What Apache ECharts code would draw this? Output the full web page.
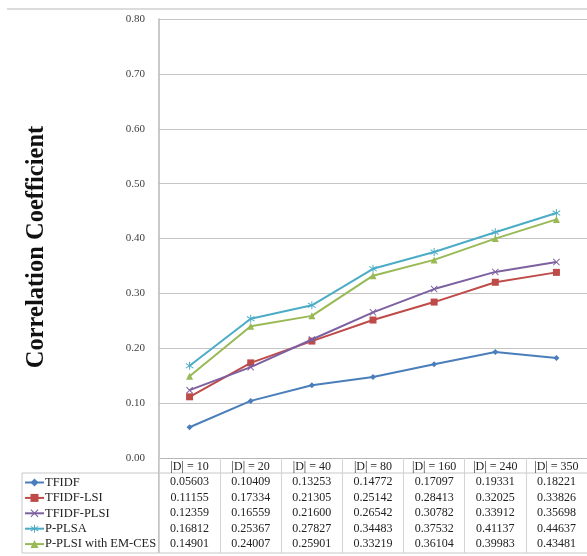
<!DOCTYPE html>
<html>
<head>
<meta charset="utf-8">
<script src="https://cdn.jsdelivr.net/npm/echarts@6/dist/echarts.min.js"></script>
<style>
  html, body { margin: 0; padding: 0; background: #fff; }
  #chart { width: 587px; height: 556px; }
</style>
</head>
<body>
<div id="chart"></div>
<script>
// Categories: document-set sizes
const categories = ['|D| = 10', '|D| = 20', '|D| = 40', '|D| = 80', '|D| = 160', '|D| = 240', '|D| = 350'];

// Correlation coefficient per method
const tfidf      = [0.05603, 0.10409, 0.13253, 0.14772, 0.17097, 0.19331, 0.18221];
const tfidfLsi   = [0.11155, 0.17334, 0.21305, 0.25142, 0.28413, 0.32025, 0.33826];
const tfidfPlsi  = [0.12359, 0.16559, 0.21600, 0.26542, 0.30782, 0.33912, 0.35698];
const pPlsa      = [0.16812, 0.25367, 0.27827, 0.34483, 0.37532, 0.41137, 0.44637];
const pPlsiEmCes = [0.14901, 0.24007, 0.25901, 0.33219, 0.36104, 0.39983, 0.43481];

const seriesNames = ['TFIDF', 'TFIDF-LSI', 'TFIDF-PLSI', 'P-PLSA', 'P-PLSI with EM-CES'];
const seriesData = [tfidf, tfidfLsi, tfidfPlsi, pPlsa, pPlsiEmCes];
const colors = ['#4a7ebb', '#be4b48', '#7d60a0', '#4bacc6', '#98b954'];

// y-axis ticks
const yMin = 0, yMax = 0.8, yStep = 0.1;

const xShape = 'path://M0,1L1,0L5,4L9,0L10,1L6,5L10,9L9,10L5,6L1,10L0,9L4,5Z';
const starShape = 'path://M4.4,0H5.6V4.1L9.2,1.6L9.8,2.6L6.2,5L9.8,7.4L9.2,8.4L5.6,5.9V10H4.4V5.9L0.8,8.4L0.2,7.4L3.8,5L0.2,2.6L0.8,1.6L4.4,4.1Z';
const symbols = ['diamond', 'rect', xShape, starShape, 'triangle'];
const symbolSizes = [6, 7, 7, 8, 7];

const serif = '"Liberation Serif", "DejaVu Serif", serif';

const chart = echarts.init(document.getElementById('chart'));

chart.setOption({
  animation: false,
  backgroundColor: '#ffffff',
  grid: { left: 159, right: -1, top: 19, bottom: 98, containLabel: false },
  legend: {
    orient: 'vertical',
    left: 24,
    top: 475.5,
    padding: 0,
    itemWidth: 19,
    itemHeight: 10,
    itemGap: 1.4,
    textStyle: { fontFamily: serif, fontSize: 12.5, lineHeight: 14, color: '#222', padding: [0, 0, 0, -4] },
    data: seriesNames
  },
  xAxis: {
    type: 'category',
    data: categories,
    boundaryGap: true,
    axisLine: { show: true, lineStyle: { color: '#b8b8b8', width: 1 } },
    axisTick: { show: true, length: 95, lineStyle: { color: '#d4d4d4', width: 1 } },
    axisLabel: { fontFamily: serif, fontSize: 12, color: '#222', margin: 3 },
    splitLine: { show: false }
  },
  yAxis: {
    type: 'value',
    min: yMin, max: yMax, interval: yStep,
    axisLine: { show: true, lineStyle: { color: '#b8b8b8', width: 1.5 } },
    axisTick: { show: false },
    axisLabel: {
      fontFamily: serif, fontSize: 11, color: '#404040', margin: 14,
      formatter: v => v.toFixed(2)
    },
    splitLine: { show: true, lineStyle: { color: '#c4c4c4', width: 1 } }
  },
  series: seriesNames.map((name, i) => ({
    name,
    type: 'line',
    data: seriesData[i],
    symbol: symbols[i],
    symbolSize: symbolSizes[i],
    showSymbol: true,
    lineStyle: { color: colors[i], width: 2 },
    itemStyle: { color: colors[i], borderColor: colors[i], borderWidth: 0 },
    z: 3 + i
  }))
});

// Data table beneath the plot, laid out on the category axis
function drawTable() {
  const cx = categories.map((c, i) => chart.convertToPixel({ xAxisIndex: 0 }, i));
  const band = cx[1] - cx[0];
  const rowY = [482, 497.5, 513, 528.5, 544];
  const els = [];

  // table frame
  els.push({ type: 'line', shape: { x1: 22, y1: 473, x2: 587, y2: 473 }, style: { stroke: '#c8c8c8', lineWidth: 1 } });
  els.push({ type: 'line', shape: { x1: 22, y1: 553, x2: 587, y2: 553 }, style: { stroke: '#c8c8c8', lineWidth: 1 } });
  els.push({ type: 'line', shape: { x1: 22, y1: 473, x2: 22, y2: 553 }, style: { stroke: '#c8c8c8', lineWidth: 1 } });
  els.push({ type: 'line', shape: { x1: cx[0] - band / 2, y1: 458, x2: cx[0] - band / 2, y2: 553 }, style: { stroke: '#b0b0b0', lineWidth: 1.5 } });

  seriesData.forEach((vals, r) => {
    vals.forEach((v, c) => {
      els.push({
        type: 'text',
        x: cx[c], y: rowY[r],
        style: {
          text: v.toFixed(5),
          fontFamily: serif, fontSize: 12, fill: '#222',
          align: 'center', verticalAlign: 'middle'
        }
      });
    });
  });

  // y-axis title
  els.push({
    type: 'text',
    x: 37, y: 247,
    rotation: Math.PI / 2,
    style: {
      text: 'Correlation Coefficient',
      fontFamily: serif, fontSize: 24.5, fontWeight: 'bold', fill: '#111',
      align: 'center', verticalAlign: 'middle'
    }
  });

  // rule across the top
  els.push({ type: 'line', shape: { x1: 7, y1: 9, x2: 587, y2: 9 }, style: { stroke: '#cfcfcf', lineWidth: 1.5 } });

  chart.setOption({ graphic: els });
}
drawTable();
</script>
</body>
</html>
